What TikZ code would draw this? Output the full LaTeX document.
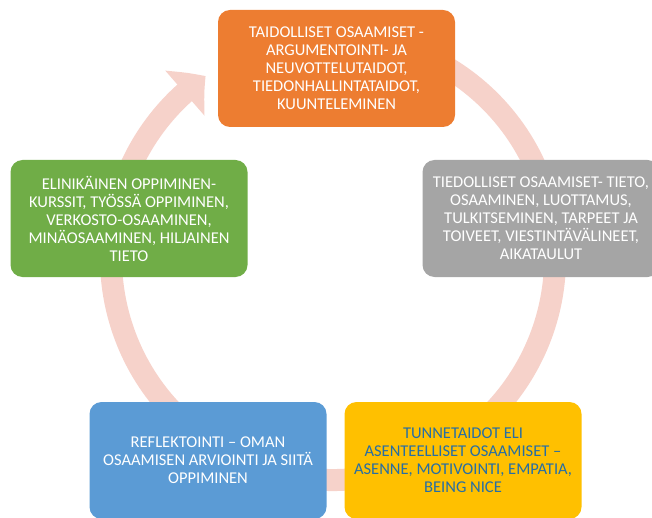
\documentclass[tikz,border=0pt]{standalone}
\usepackage{fontspec}
\setmainfont{Carlito}
\usetikzlibrary{arrows.meta,bending}

\definecolor{ringpink}{RGB}{246,210,202}
\definecolor{taitoorange}{RGB}{237,125,49}
\definecolor{tietogrey}{RGB}{165,165,165}
\definecolor{tunneyellow}{RGB}{255,192,0}
\definecolor{tunneblue}{RGB}{38,110,165}
\definecolor{reflblue}{RGB}{91,155,213}
\definecolor{elinigreen}{RGB}{112,173,71}

\begin{document}
\begin{tikzpicture}[x=1pt, y=1pt]
\tikzstyle{stage} = [rectangle, rounded corners=12pt, minimum width=237pt, minimum height=117pt,
  inner sep=0pt, align=center, text=white, font=\fontsize{16.5}{18}\selectfont]

\useasboundingbox (0,0) rectangle (652,517);

% the ring behind the boxes
\coordinate (C) at (333,259);
\draw [ringpink, line width=22pt, -{Triangle[length=27pt, width=58pt, bend]}]
  (C) ++(105:222) arc [start angle=105, end angle=-235, radius=222];

\node (T) [stage, fill=taitoorange] at (336.5,448.5)
  {TAIDOLLISET OSAAMISET -\\ARGUMENTOINTI- JA\\NEUVOTTELUTAIDOT,\\TIEDONHALLINTATAIDOT,\\KUUNTELEMINEN};
\node (Ti) [stage, fill=tietogrey] at (541,298.5)
  {TIEDOLLISET OSAAMISET- TIETO,\\OSAAMINEN, LUOTTAMUS,\\TULKITSEMINEN, TARPEET JA\\TOIVEET, VIESTINTÄVÄLINEET,\\AIKATAULUT};
\node (Tu) [stage, fill=tunneyellow, text=tunneblue] at (463,56.5)
  {TUNNETAIDOT ELI\\ASENTEELLISET OSAAMISET –\\ASENNE, MOTIVOINTI, EMPATIA,\\BEING NICE};
\node (R) [stage, fill=reflblue] at (208,56.5)
  {REFLEKTOINTI – OMAN\\OSAAMISEN ARVIOINTI JA SIITÄ\\OPPIMINEN};
\node (E) [stage, fill=elinigreen] at (129,298.5)
  {ELINIKÄINEN OPPIMINEN-\\KURSSIT, TYÖSSÄ OPPIMINEN,\\VERKOSTO-OSAAMINEN,\\MINÄOSAAMINEN, HILJAINEN\\TIETO};
\end{tikzpicture}
\end{document}
